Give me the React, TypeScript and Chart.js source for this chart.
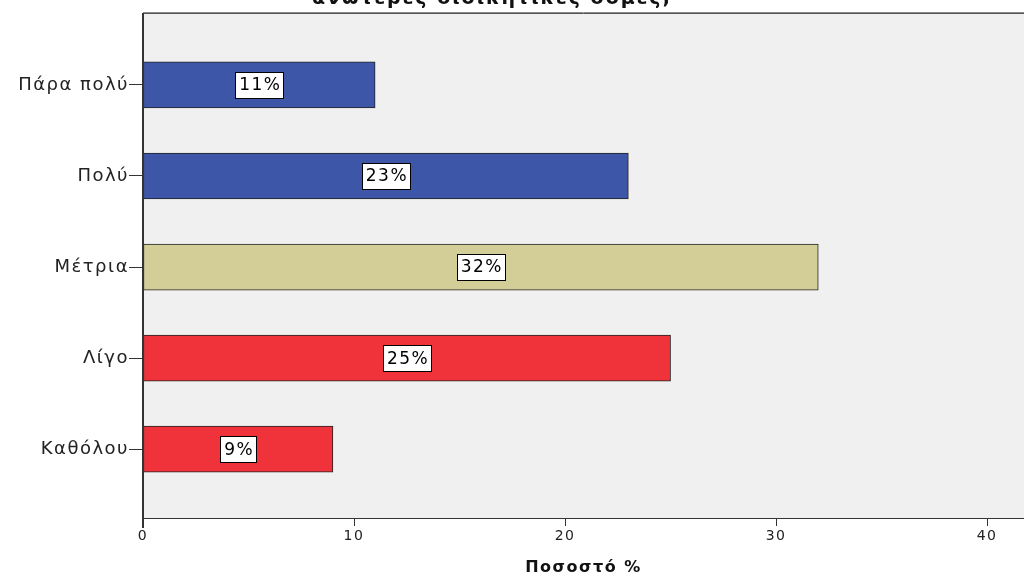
import React, { useEffect, useRef } from "react";
import { Chart, registerables } from "chart.js";

Chart.register(...registerables);

const categories = ["Πάρα πολύ", "Πολύ", "Μέτρια", "Λίγο", "Καθόλου"];
const percentages = [11, 23, 32, 25, 9];
const barColors = ["#3D56A8", "#3D56A8", "#D3CE98", "#F0333A", "#F0333A"];
const xTicks = [0, 10, 20, 30, 40];
const titleText = "ανώτερες διοικητικές δομές;";
const xAxisTitle = "Ποσοστό %";

const FONT = "'DejaVu Sans', Verdana, sans-serif";
const SPACING = "1.5px";

const spacingPlugin = {
  id: "spacing",
  beforeDraw(chart: any) {
    (chart.ctx as any).letterSpacing = SPACING;
  },
};

const labelPlugin = {
  id: "boxLabels",
  afterDatasetsDraw(chart: any) {
    const ctx = chart.ctx;
    const meta = chart.getDatasetMeta(0);
    ctx.save();
    (ctx as any).letterSpacing = SPACING;
    ctx.font = `17px ${FONT}`;
    ctx.textAlign = "center";
    ctx.textBaseline = "middle";
    meta.data.forEach((bar: any, i: number) => {
      const txt = `${percentages[i]}%`;
      const cx = (bar.base + bar.x) / 2;
      const cy = bar.y;
      const w = Math.round(ctx.measureText(txt).width + 6);
      const h = 26;
      const x0 = Math.round(cx - w / 2) + 0.5;
      const y0 = Math.round(cy - h / 2) + 0.5;
      ctx.fillStyle = "#FFFFFF";
      ctx.fillRect(x0, y0, w, h);
      ctx.strokeStyle = "#000000";
      ctx.lineWidth = 1;
      ctx.strokeRect(x0, y0, w, h);
      ctx.fillStyle = "#000000";
      ctx.fillText(txt, cx + 1, cy + 1);
    });
    ctx.restore();
  },
};

const framePlugin = {
  id: "frame",
  beforeDraw(chart: any) {
    const { ctx, chartArea } = chart;
    ctx.save();
    ctx.fillStyle = "#F0F0F0";
    ctx.fillRect(chartArea.left, chartArea.top, chartArea.right - chartArea.left, chartArea.bottom - chartArea.top);
    ctx.restore();
  },
  afterDraw(chart: any) {
    const { ctx, chartArea } = chart;
    ctx.save();
    ctx.lineWidth = 1;
    ctx.strokeStyle = "#8A8A8A";
    ctx.beginPath();
    ctx.moveTo(chartArea.left, chartArea.top - 0.5);
    ctx.lineTo(chartArea.right, chartArea.top - 0.5);
    ctx.stroke();
    ctx.strokeStyle = "#555555";
    ctx.beginPath();
    ctx.moveTo(chartArea.left, chartArea.top + 0.5);
    ctx.lineTo(chartArea.right, chartArea.top + 0.5);
    ctx.stroke();
    ctx.strokeStyle = "#333333";
    ctx.lineWidth = 2;
    ctx.beginPath();
    ctx.moveTo(chartArea.left, chartArea.top);
    ctx.lineTo(chartArea.left, chartArea.bottom + 10);
    ctx.stroke();
    ctx.restore();
  },
};

export default function App() {
  const ref = useRef<HTMLCanvasElement | null>(null);

  useEffect(() => {
    document.body.style.margin = "0";
    document.body.style.overflow = "hidden";
    if (!ref.current) return;
    const chart = new Chart(ref.current, {
      type: "bar",
      data: {
        datasets: [
          {
            data: percentages.map((v, i) => ({ x: v, y: i })),
            backgroundColor: barColors,
            borderColor: "#222222",
            borderWidth: 1,
            borderSkipped: false,
            barThickness: 46,
          },
        ],
      },
      options: {
        indexAxis: "y",
        animation: false,
        responsive: false,
        maintainAspectRatio: false,
        layout: { padding: { top: 13, right: 0, left: 0, bottom: 0 } },
        plugins: {
          legend: { display: false },
          tooltip: { enabled: false },
          title: { display: false },
        },
        scales: {
          x: {
            type: "linear",
            min: 0,
            max: 41.75,
            afterBuildTicks(scale: any) {
              scale.ticks = xTicks.map((v) => ({ value: v }));
            },
            afterFit(scale: any) {
              scale.height = 59;
            },
            grid: {
              drawOnChartArea: false,
              drawTicks: true,
              tickLength: 8,
              color: "#333333",
            },
            border: { display: true, color: "#333333", width: 1 },
            ticks: {
              color: "#222222",
              font: { family: FONT, size: 14 },
              padding: 2,
              maxRotation: 0,
            },
            title: {
              display: true,
              text: xAxisTitle,
              color: "#111111",
              font: { family: FONT, size: 16, weight: "bold" },
              padding: { top: 5, bottom: 0 },
            },
          },
          y: {
            type: "linear",
            reverse: true,
            offset: false,
            min: -0.79,
            max: 4.756,
            afterBuildTicks(scale: any) {
              scale.ticks = categories.map((_, i) => ({ value: i }));
            },
            afterFit(scale: any) {
              scale.width = 143;
            },
            grid: {
              offset: false,
              drawOnChartArea: false,
              drawTicks: true,
              tickLength: 14,
              color: "#333333",
            },
            border: { display: false },
            ticks: {
              color: "#222222",
              font: { family: FONT, size: 18 },
              padding: 0,
              callback: (v: any) => categories[Math.round(Number(v))] ?? "",
            },
          },
        },
      },
      plugins: [spacingPlugin, framePlugin, labelPlugin],
    });
    return () => chart.destroy();
  }, []);

  return (
    <div style={{ position: "relative", width: 1024, height: 577, overflow: "hidden", background: "#FFFFFF" }}>
      <div
        style={{
          position: "absolute",
          top: -14,
          left: 0,
          width: 984,
          textAlign: "center",
          fontFamily: FONT,
          fontWeight: "bold",
          fontSize: 19,
          letterSpacing: "2px",
          lineHeight: "22px",
          color: "#111111",
          whiteSpace: "nowrap",
        }}
      >
        {titleText}
      </div>
      <canvas ref={ref} width={1024} height={577} style={{ display: "block" }} />
    </div>
  );
}
